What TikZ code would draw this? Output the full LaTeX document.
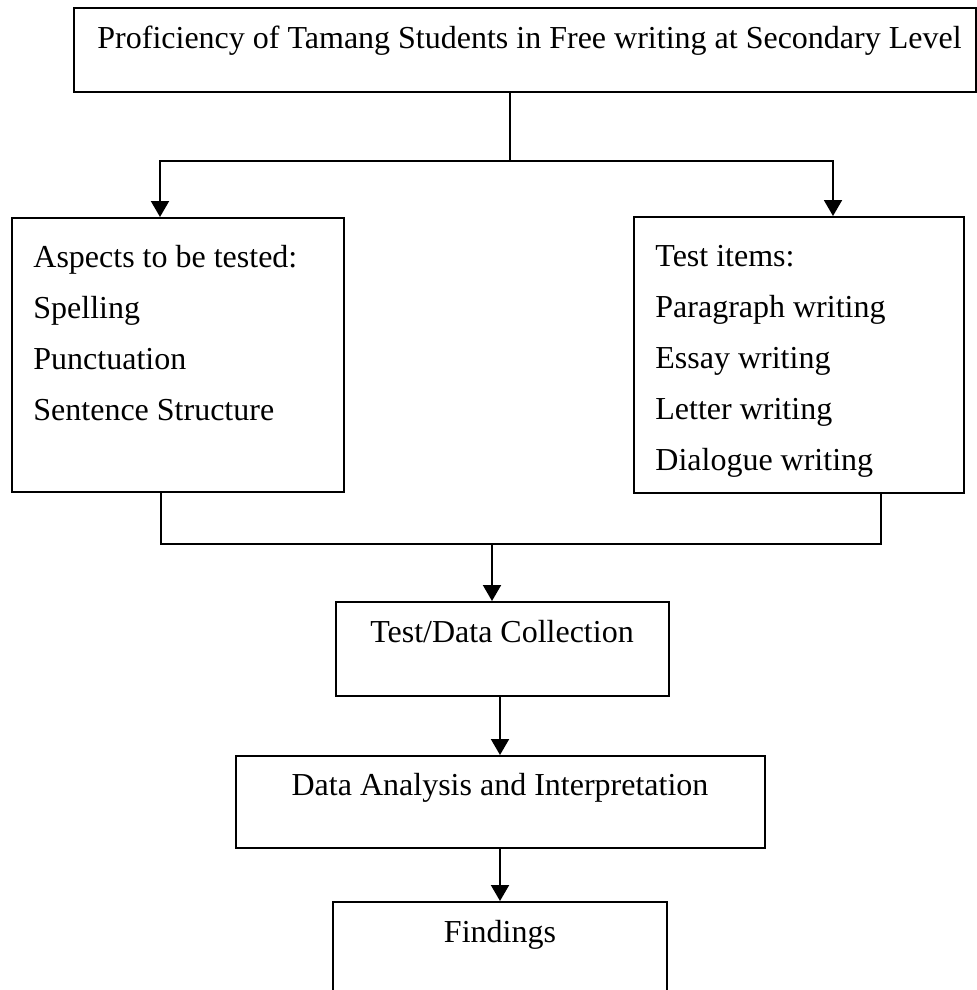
\documentclass[tikz,border=0pt]{standalone}
\usepackage{fontspec}
\setmainfont{Liberation Serif}
\usetikzlibrary{arrows.meta}
\tikzset{
  boxnode/.style={draw, line width=1pt, inner sep=0pt, rectangle},
  txt/.style={inner sep=0pt, font=\fontsize{16pt}{19pt}\selectfont},
  arr/.style={line width=1pt, -{Triangle[length=8pt,width=9pt]}},
  ln/.style={line width=1pt}
}
\begin{document}
\begin{tikzpicture}[x=0.5pt,y=-0.5pt]
\clip (0,0) rectangle (977,990);
\fill[white] (0,0) rectangle (977,990);
% boxes
\node[boxnode, minimum width=451pt, minimum height=42pt] (top) at (525,50) {};
\node[boxnode, minimum width=166pt, minimum height=137pt] (left) at (178,355) {};
\node[boxnode, minimum width=165pt, minimum height=138pt] (right) at (799,355) {};
\node[boxnode, minimum width=166.5pt, minimum height=47pt] (tdc) at (502.5,649) {};
\node[boxnode, minimum width=264.5pt, minimum height=46pt] (da) at (500,802) {};
\node[boxnode, minimum width=167pt, minimum height=49pt] (find) at (500,951) {};
% texts
\node[txt, anchor=base west] (t0) at (97,49) {Proficiency of Tamang Students in Free writing at Secondary Level};
\node[txt, anchor=base west] (l1) at (33,267) {Aspects to be tested:};
\node[txt, anchor=base west] (l2) at (33,318) {Spelling};
\node[txt, anchor=base west] (l3) at (33,369) {Punctuation};
\node[txt, anchor=base west] (l4) at (33,420) {Sentence Structure};
\node[txt, anchor=base west] (r1) at (655,266) {Test items:};
\node[txt, anchor=base west] (r2) at (655,317) {Paragraph writing};
\node[txt, anchor=base west] (r3) at (655,368) {Essay writing};
\node[txt, anchor=base west] (r4) at (655,419) {Letter writing};
\node[txt, anchor=base west] (r5) at (655,470) {Dialogue writing};
\node[txt, anchor=base] (t1) at (502,642) {Test/Data Collection};
\node[txt, anchor=base] (t2) at (500,795) {Data Analysis and Interpretation};
\node[txt, anchor=base] (t3) at (500,942) {Findings};
% junction coordinates
\coordinate (j1) at (510,161);
\coordinate (jl) at (160,161);
\coordinate (jr) at (833,161);
\coordinate (bl) at (161,544);
\coordinate (br) at (881,544);
\coordinate (bm) at (492,544);
% connectors
\draw[ln] (top.south -| j1) -- (j1);
\draw[arr] (j1) -| (jl |- left.north);
\draw[arr] (j1) -| (jr |- right.north);
\draw[ln] (left.south -| bl) |- (br) -- (right.south -| br);
\draw[arr] (bm) -- (tdc.north -| bm);
\draw[arr] (tdc.south -| da.north) -- (da.north);
\draw[arr] (da.south) -- (find.north);
\end{tikzpicture}
\end{document}
